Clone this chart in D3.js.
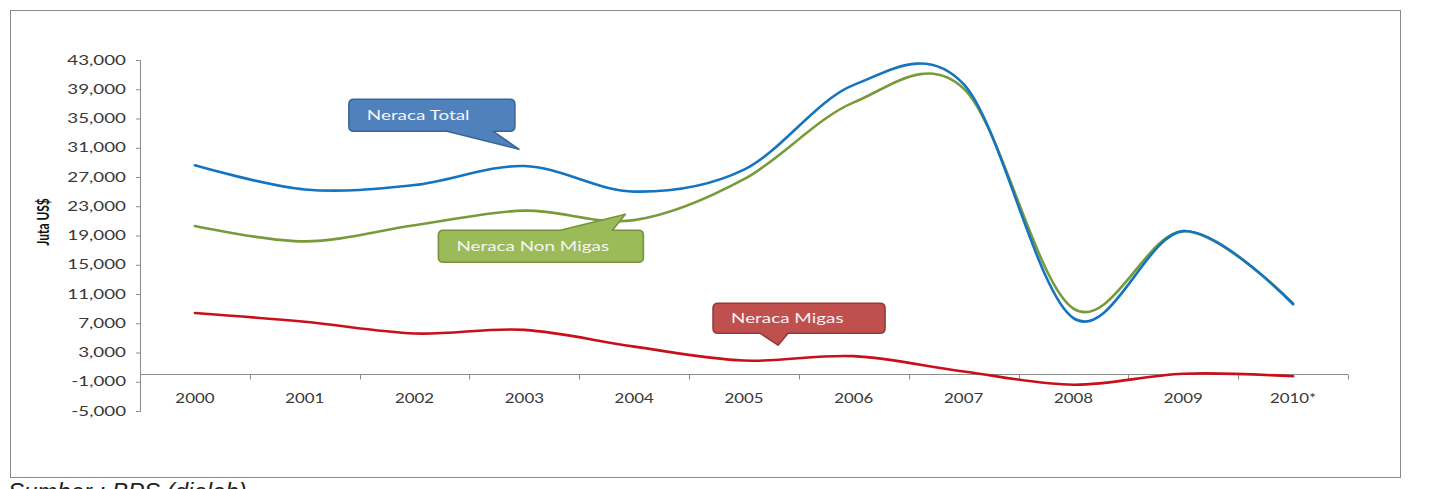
<!DOCTYPE html>
<html>
<head>
<meta charset="utf-8">
<script src="https://cdn.jsdelivr.net/npm/d3@7"></script>
<style>
    html, body { margin: 0; padding: 0; background: #fff; overflow: hidden; }
    svg { display: block; }
    .axis path, .axis line { stroke: #8c8c8c; }
    .axis text { fill: #383838; font-family: Lato, "Open Sans", sans-serif; font-size: 12.5px; }
    .series { fill: none; stroke-width: 2.6; stroke-linecap: round; }
    .callout text { fill: #f4f4f4; font-family: Lato, "Open Sans", sans-serif; font-size: 13px; }
</style>
</head>
<body>
<svg id="chart" width="1435" height="489"></svg>
<script>
// values, in Juta US$
const years = ["2000", "2001", "2002", "2003", "2004", "2005", "2006", "2007", "2008", "2009", "2010*"];
const neracaTotal = [28600, 25300, 25900, 28500, 25000, 28000, 39600, 39700, 7700, 19600, 9600];
const neracaNonMigas = [20300, 18200, 20400, 22400, 21100, 26700, 37200, 39100, 9000, 19600, 9700];
const neracaMigas = [8400, 7200, 5600, 6100, 3800, 1900, 2500, 400, -1400, 100, -250];
const yTicks = [-5000, -1000, 3000, 7000, 11000, 15000, 19000, 23000, 27000, 31000, 35000, 39000, 43000];
const yTickLabels = ["-5,000", "-1,000", "3,000", "7,000", "11,000", "15,000", "19,000",
    "23,000", "27,000", "31,000", "35,000", "39,000", "43,000"];

// callouts: tip anchored in data space (category index, value)
const callouts = [
    {label: "Neraca Total", fill: "#4f81bd", stroke: "#3a6596", tip: [2.95, 30800],
        box: [-170, -50, 166, 32], tail: ["bottom", -72, -26]},
    {label: "Neraca Non Migas", fill: "#9bbb59", stroke: "#76923c", tip: [3.92, 21900],
        box: [-187, 16, 205, 32], tail: ["top", -65, -13]},
    {label: "Neraca Migas", fill: "#c0504d", stroke: "#943a37", tip: [5.31, 4000],
        box: [-65, -42, 172, 30], tail: ["bottom", -18, 10]}
];

const MARGINS = {top: 60, right: 87, bottom: 78, left: 140};

function stretch(sel, k){
    sel.each(function(){
        let len = this.getComputedTextLength();
        d3.select(this)
            .attr("textLength", len * k)
            .attr("lengthAdjust", "spacingAndGlyphs");
    });
}

function calloutPath(x, y, w, h, r, tail){
    let [side, a, b, tx, ty] = tail;
    let p = `M${x + r},${y}`;
    if(side === "top") p += `L${a},${y}L${tx},${ty}L${b},${y}`;
    p += `L${x + w - r},${y}Q${x + w},${y} ${x + w},${y + r}`;
    p += `L${x + w},${y + h - r}Q${x + w},${y + h} ${x + w - r},${y + h}`;
    if(side === "bottom") p += `L${b},${y + h}L${tx},${ty}L${a},${y + h}`;
    p += `L${x + r},${y + h}Q${x},${y + h} ${x},${y + h - r}`;
    p += `L${x},${y + r}Q${x},${y} ${x + r},${y}Z`;
    return p;
}

let svg = d3.select("#chart");
let W = +svg.attr("width"), H = +svg.attr("height");
let w = W - MARGINS.left - MARGINS.right,
    h = 411 - MARGINS.top;

// outer frame of the chart object
svg.append("rect")
    .attr("x", 10.5).attr("y", 10.5)
    .attr("width", 1390).attr("height", 467)
    .attr("fill", "#fff")
    .attr("stroke", "#8a8a8a");

let g = svg.append("g")
    .attr("transform", `translate(${MARGINS.left},${MARGINS.top})`);

let x = d3.scaleBand().domain(years).range([0, w]).padding(0);
let xi = d3.scaleLinear().domain([0, years.length - 1])
    .range([x.bandwidth() / 2, w - x.bandwidth() / 2]);
let y = d3.scaleLinear().domain([-5000, 43000]).range([h, 0]);

// y axis
let yAxis = d3.axisLeft(y)
    .tickValues(yTicks)
    .tickSize(4)
    .tickPadding(10)
    .tickFormat((d, i) => yTickLabels[i]);

g.append("g")
    .attr("class", "axis axis-y")
    .call(yAxis)
    .call(a => a.select(".domain").attr("d", `M-4,0.5H0.5V${h + 0.5}H-4`))
    .selectAll(".tick text")
        .call(stretch, 1.5);

// x axis sits on the zero line
let xAxis = d3.axisBottom(x).tickSize(0).tickPadding(20);
let xg = g.append("g")
    .attr("class", "axis axis-x")
    .attr("transform", `translate(0,${Math.round(y(0)) + 0.5})`)
    .call(xAxis);
xg.select(".domain").attr("d", `M0,0H${w}`);
xg.selectAll(".tick text").call(stretch, 1.35);
xg.selectAll("line.sep")
    .data(d3.range(1, years.length + 1))
    .enter().append("line")
        .attr("class", "sep")
        .attr("x1", i => Math.round(i * x.step()) + 0.5)
        .attr("x2", i => Math.round(i * x.step()) + 0.5)
        .attr("y1", 0).attr("y2", 5)
        .attr("stroke", "#8c8c8c");

// axis title
g.append("text")
    .attr("transform", `translate(${43 - MARGINS.left},${222 - MARGINS.top}) rotate(-90) scale(1,1.4)`)
    .attr("text-anchor", "middle")
    .attr("dominant-baseline", "central")
    .style("font-family", "Lato, 'Open Sans', sans-serif")
    .style("font-weight", "bold")
    .style("font-size", "12px")
    .style("fill", "#111")
    .text("Juta US$");

// series
let line = d3.line()
    .x((d, i) => x(years[i]) + x.bandwidth() / 2)
    .y(d => y(d))
    .curve(d3.curveCardinal.tension(0));

let series = [
    {name: "migas", values: neracaMigas, color: "#c8101a"},
    {name: "nonmigas", values: neracaNonMigas, color: "#789b3a"},
    {name: "total", values: neracaTotal, color: "#1574c0"}
];

g.selectAll("path.series")
    .data(series)
    .enter().append("path")
        .attr("class", "series")
        .attr("data-id", d => d.name)
        .attr("d", d => line(d.values))
        .style("stroke", d => d.color);

// callouts
let cg = g.selectAll("g.callout")
    .data(callouts)
    .enter().append("g")
        .attr("class", "callout");

cg.append("path")
    .attr("d", d => {
        let tx = xi(d.tip[0]), ty = y(d.tip[1]);
        let [dx, dy, bw, bh] = d.box;
        let [side, a, b] = d.tail;
        return calloutPath(tx + dx, ty + dy, bw, bh, 5, [side, tx + a, tx + b, tx, ty]);
    })
    .attr("fill", d => d.fill)
    .attr("stroke", d => d.stroke)
    .attr("stroke-width", 1.6)
    .attr("stroke-linejoin", "round");

cg.append("text")
    .attr("x", d => xi(d.tip[0]) + d.box[0] + 18)
    .attr("y", d => y(d.tip[1]) + d.box[1] + d.box[3] / 2)
    .attr("dominant-baseline", "central")
    .text(d => d.label)
    .call(stretch, 1.45);

// source note, cut by the bottom of the frame as in the original
svg.append("text")
    .attr("x", 8)
    .attr("y", 500)
    .style("font-family", "'Liberation Sans', Arial, sans-serif")
    .style("font-style", "italic")
    .style("font-size", "24px")
    .style("fill", "#222")
    .text("Sumber : BPS (diolah)");
</script>
</body>
</html>
